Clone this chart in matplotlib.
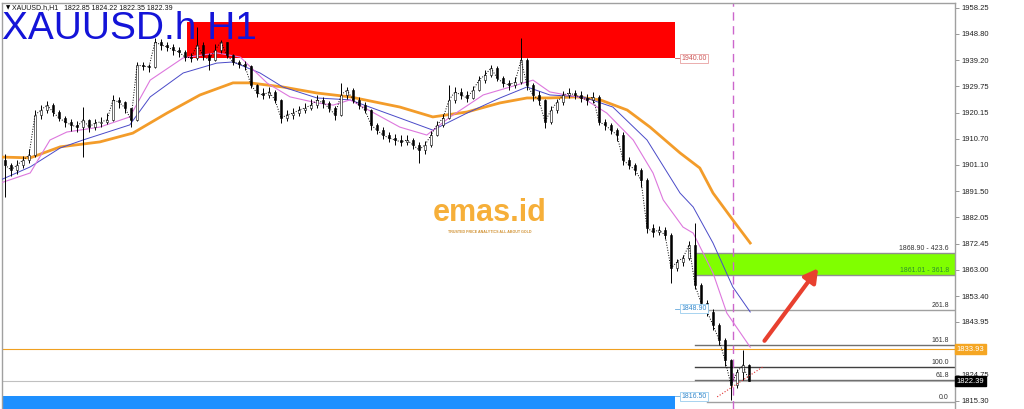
import matplotlib
matplotlib.use("Agg")
from matplotlib import pyplot as plt
from matplotlib.patches import Rectangle

plt.rcParams['font.family'] = ['Liberation Sans', 'DejaVu Sans']

# H1 candles (bar index = position on the chart)
closes = [1901.1, 1899.3, 1901.1, 1902.9, 1904.7, 1919.3, 1921.1, 1922.9, 1920.4, 1918.2,
          1916.8, 1915.7, 1914.9, 1917.5, 1914.9, 1916.4, 1916.8, 1917.5, 1924.8, 1924.0,
          1921.9, 1917.5, 1937.5, 1937.1, 1936.8, 1945.9, 1944.8, 1944.1, 1943.0, 1942.2,
          1940.4, 1940.1, 1944.8, 1941.1, 1939.3, 1943.0, 1945.9, 1941.1, 1938.6, 1937.9,
          1937.1, 1930.2, 1927.3, 1926.6, 1927.7, 1924.8, 1918.2, 1919.3, 1920.0, 1921.1,
          1921.9, 1922.9, 1924.8, 1923.7, 1921.9, 1919.3, 1926.6, 1928.4, 1924.8, 1923.0,
          1921.1, 1915.7, 1913.8, 1912.0, 1910.9, 1910.2, 1909.5, 1910.2, 1908.4, 1906.6,
          1908.4, 1912.0, 1915.7, 1918.2, 1924.8, 1927.7, 1926.6, 1925.5, 1928.4, 1932.0,
          1933.9, 1936.4, 1932.8, 1931.0, 1930.2, 1931.3, 1939.3, 1930.2, 1926.6, 1924.8,
          1916.8, 1921.1, 1924.0, 1926.6, 1927.3, 1926.6, 1925.5, 1924.8, 1925.9, 1916.8,
          1915.7, 1913.8, 1912.0, 1902.9, 1901.1, 1899.3, 1895.6, 1878.2, 1876.7, 1877.4,
          1875.6, 1863.6, 1865.8, 1867.3, 1872.0, 1857.4, 1850.9, 1847.6, 1842.9, 1837.4,
          1830.1, 1821.0, 1825.8, 1828.3, 1822.4]
highs = [1905.0, 1902.0, 1903.0, 1904.5, 1907.0, 1921.0, 1923.0, 1924.5, 1923.5, 1921.0,
         1919.0, 1918.0, 1917.0, 1922.2, 1918.0, 1918.0, 1918.5, 1920.0, 1926.6, 1926.0,
         1924.5, 1922.0, 1938.6, 1938.6, 1938.0, 1947.3, 1947.0, 1946.0, 1945.0, 1944.0,
         1943.0, 1942.0, 1951.3, 1946.0, 1942.0, 1945.0, 1946.6, 1946.0, 1941.5, 1939.5,
         1939.0, 1937.5, 1930.5, 1929.0, 1929.5, 1928.5, 1925.0, 1921.0, 1922.0, 1922.5,
         1923.5, 1925.0, 1926.5, 1926.0, 1924.5, 1922.5, 1931.0, 1929.5, 1929.0, 1926.0,
         1924.0, 1921.5, 1916.5, 1915.0, 1913.0, 1912.5, 1912.0, 1912.0, 1911.0, 1909.5,
         1910.0, 1913.5, 1917.0, 1919.5, 1930.2, 1929.5, 1929.0, 1928.0, 1930.0, 1933.5,
         1935.5, 1937.5, 1937.0, 1933.5, 1932.0, 1933.0, 1947.3, 1940.0, 1931.0, 1928.0,
         1925.0, 1922.5, 1925.0, 1928.0, 1929.0, 1928.5, 1928.0, 1927.0, 1927.5, 1926.5,
         1918.0, 1916.5, 1914.5, 1913.0, 1904.0, 1902.0, 1900.0, 1896.5, 1879.5, 1879.0,
         1878.5, 1876.5, 1867.0, 1868.5, 1873.5, 1880.0, 1858.0, 1852.0, 1848.5, 1843.5,
         1838.0, 1830.5, 1827.0, 1833.8, 1828.5]
lows = [1889.5, 1897.0, 1898.0, 1900.0, 1902.0, 1904.0, 1918.0, 1920.0, 1919.0, 1917.0,
        1915.0, 1913.5, 1913.0, 1904.0, 1913.0, 1914.0, 1915.0, 1916.0, 1917.0, 1922.0,
        1920.0, 1914.9, 1917.0, 1935.5, 1935.0, 1936.5, 1943.0, 1942.5, 1941.0, 1940.5,
        1939.0, 1938.6, 1939.5, 1939.5, 1935.7, 1939.0, 1942.0, 1940.0, 1937.5, 1936.5,
        1935.5, 1929.0, 1926.0, 1925.0, 1925.5, 1923.5, 1916.4, 1917.0, 1918.0, 1919.0,
        1920.0, 1921.0, 1922.0, 1922.0, 1920.5, 1917.5, 1919.0, 1925.0, 1923.5, 1921.5,
        1920.0, 1914.0, 1912.5, 1910.5, 1909.5, 1908.5, 1908.0, 1908.5, 1907.0, 1901.8,
        1905.0, 1907.5, 1911.5, 1915.0, 1918.0, 1923.5, 1925.0, 1924.0, 1925.0, 1928.0,
        1931.0, 1933.0, 1931.5, 1929.5, 1928.5, 1929.0, 1930.5, 1928.5, 1924.5, 1923.0,
        1914.6, 1916.0, 1920.0, 1923.0, 1925.5, 1925.0, 1924.0, 1923.0, 1923.5, 1915.5,
        1914.0, 1912.5, 1910.0, 1901.0, 1899.5, 1897.5, 1893.0, 1876.5, 1875.0, 1875.5,
        1874.0, 1858.2, 1862.5, 1864.5, 1866.5, 1856.0, 1849.0, 1846.0, 1841.0, 1835.5,
        1828.0, 1815.6, 1820.0, 1823.0, 1822.35]
first_open = 1903.0
opens = [first_open] + closes[:-1]

# moving averages (sampled points: bar index, price)
ma_fast_x = [-0.8, 4.2, 7.5, 10.3, 15.8, 20.8, 24.2, 29.7, 35.3, 39.2, 43.7, 47.5, 52, 54.7, 57.5,
             65.8, 70.3, 74.2, 79.7, 84.2, 88, 90.8, 96.3, 100.3, 104.7, 108, 109.7, 113, 114.7,
             118, 120.3, 124.2]
ma_fast_y = [1894.5, 1898.2, 1910.2, 1913.1, 1914.9, 1918.6, 1932.0, 1940.1, 1941.9, 1940.4,
             1930.9, 1925.9, 1923.7, 1922.9, 1924.8, 1914.9, 1912.0, 1918.6, 1926.6, 1929.5,
             1932.0, 1927.7, 1925.5, 1920.0, 1910.2, 1898.2, 1888.4, 1878.5, 1876.3, 1861.8,
             1847.2, 1834.8]
ma_mid_x = [-0.8, 4.2, 9.2, 13, 20.8, 24.2, 29.7, 35.3, 38, 42.5, 46.3, 52, 57.5, 65.8, 71.3,
            77, 82.5, 87, 90.8, 96.3, 101.3, 107, 112.5, 114.7, 118, 121.3, 124.2]
ma_mid_y = [1895.6, 1900.4, 1907.3, 1910.2, 1915.7, 1925.9, 1934.6, 1938.2, 1938.6, 1934.6,
            1929.5, 1925.5, 1924.8, 1918.2, 1913.8, 1920.0, 1925.5, 1929.5, 1926.6, 1925.9,
            1922.2, 1910.2, 1890.9, 1885.8, 1872.7, 1856.7, 1847.6]
ma_slow_x = [-0.8, 4.2, 9.2, 15.8, 21.3, 27, 32.5, 38, 40.8, 46.3, 52, 57.5, 65.8, 71.3, 77,
             82.5, 87, 90.8, 95.3, 99.2, 103.7, 107.5, 112.5, 115.8, 118, 121.3, 124.2]
ma_slow_y = [1904.0, 1903.7, 1907.7, 1909.5, 1912.7, 1920.0, 1926.6, 1931.0, 1931.0, 1929.5,
             1927.3, 1925.9, 1922.2, 1918.6, 1920.4, 1923.7, 1925.5, 1925.5, 1925.9, 1924.8,
             1921.1, 1914.9, 1905.5, 1900.0, 1890.9, 1881.1, 1872.7]

# fibonacci expansion levels
fib_levels = ['0.0', '61.8', '100.0', '161.8', '261.8', '361.8', '423.6']
fib_prices = [1814.82, 1822.71, 1827.59, 1835.48, 1848.25, 1861.01, 1868.90]
fib_colors = ['#a0a0a0', '#707070', '#404040', '#707070', '#a0a0a0', '#909090', '#909090']

# price axis (1834.35 is hidden under the orange price box)
tick_prices = [1958.25, 1948.80, 1939.20, 1929.75, 1920.15, 1910.70, 1901.10, 1891.50,
               1882.05, 1872.45, 1863.00, 1853.40, 1843.95, 1834.35, 1824.75, 1815.30]
hidden_tick = 1834.35

supply_zone = (30.3, 111.7, 1940.00, 1953.2)
demand_zone = (-0.5, 111.7, 1800.0, 1817.0)
bid = 1822.39
level_orange = 1834.0
vline_bar = 121.3

fig = plt.figure(figsize=(10.24, 4.09), dpi=100)
ax = fig.add_axes([2 / 1024, 0, 953 / 1024, 406 / 409])
ax.set_xlim(-0.5, 158.33)
ax.set_ylim(1812.28, 1960.07)
xmax = 158.33

# zones
ax.add_patch(Rectangle((supply_zone[0], supply_zone[2]), supply_zone[1] - supply_zone[0],
                       supply_zone[3] - supply_zone[2], color='#ff0000', zorder=1, lw=0))
ax.add_patch(Rectangle((demand_zone[0], demand_zone[2]), demand_zone[1] - demand_zone[0],
                       demand_zone[3] - demand_zone[2], color='#1e90ff', zorder=1, lw=0))
ax.add_patch(Rectangle((115, fib_prices[5]), xmax - 115, fib_prices[6] - fib_prices[5],
                       color='#80ff00', zorder=1, lw=0))

# horizontal lines
ax.axhline(level_orange, color='#f0a020', lw=0.8, zorder=2)
ax.axhline(bid, color='#c0c0c0', lw=0.8, zorder=1.5)
for lvl, p, c in zip(fib_levels, fib_prices, fib_colors):
    x0 = 117 if lvl == '0.0' else 115
    ax.plot([x0, xmax], [p, p], color=c, lw=1, zorder=2)
    if lvl in ('361.8', '423.6'):
        continue
    ax.text(157.3, p + 0.4, lvl, fontsize=5, ha='right', va='bottom', color='#333333', zorder=5)
ax.text(157.3, fib_prices[6] + 0.4, '%.2f - %s' % (fib_prices[6], fib_levels[6]),
        fontsize=5, ha='right', va='bottom', color='#333333')
ax.text(157.3, fib_prices[5] + 0.5, '%.2f - %s' % (fib_prices[5], fib_levels[5]),
        fontsize=5, ha='right', va='bottom', color='#2f8f2f')

# vertical dashed line
ax.axvline(vline_bar, color='#cc66cc', lw=1, ls=(0, (6, 4)), zorder=2)

# moving averages
ax.plot(ma_slow_x, ma_slow_y, color='#f39c2a', lw=2, zorder=3)
ax.plot(ma_mid_x, ma_mid_y, color='#4a4ac8', lw=0.7, zorder=3)
ax.plot(ma_fast_x, ma_fast_y, color='#dd77dd', lw=0.8, zorder=3)

# candles
idx = list(range(len(closes)))
ax.vlines(idx, lows, highs, color='black', lw=0.7, zorder=4)
for i in idx:
    o, c = opens[i], closes[i]
    fc = 'white' if c >= o else 'black'
    ax.add_patch(Rectangle((i - 0.22, min(o, c)), 0.44, max(abs(c - o), 0.15),
                           facecolor=fc, edgecolor='black', lw=0.4, zorder=4))
ax.plot(idx, closes, color='black', lw=0.7, ls=':', zorder=4)

# red trend line and arrow
ax.plot([118.7, 126.3], [1816.7, 1827.6], color='#e03030', lw=0.8, ls=':', zorder=4)
ax.annotate('', xy=(135.8, 1864.3), xytext=(126.3, 1836.3),
            arrowprops=dict(arrowstyle='-|>,head_length=0.8,head_width=0.45',
                            color='#e8402f', lw=3), zorder=6)

# price labels on objects
ax.plot([111.7, 112.6], [1940.0, 1940.0], color='#cc5555', lw=0.6)
ax.text(112.7, 1940.0, '1940.00', fontsize=5, ha='left', va='center', color='#cc5555',
        bbox=dict(boxstyle='square,pad=0.15', fc='white', ec='#e8a0a0', lw=0.6), zorder=6)
ax.plot([111.7, 112.6], [1817.0, 1817.0], color='#66aadd', lw=0.6)
ax.text(112.7, 1816.8, '1816.50', fontsize=5, ha='left', va='center', color='#3388cc',
        bbox=dict(boxstyle='square,pad=0.15', fc='white', ec='#99ccee', lw=0.6), zorder=6)
ax.plot([111.7, 112.6], [1848.7, 1848.7], color='#66aadd', lw=0.6)
ax.text(112.7, 1848.7, '1848.90', fontsize=5, ha='left', va='center', color='#3388cc',
        bbox=dict(boxstyle='square,pad=0.15', fc='white', ec='#99ccee', lw=0.6), zorder=6)

# watermark
ax.text(80.8, 1883.5, 'emas.id', fontsize=22, fontweight='bold', color='#f5a623',
        ha='center', va='center', alpha=0.9, zorder=2)
ax.text(80.8, 1876.6, 'TRUSTED PRICE ANALYTICS ALL ABOUT GOLD', fontsize=2.6,
        fontweight='bold', color='#d09030', ha='center', va='center', zorder=2)

# right price scale
ax.yaxis.tick_right()
ax.set_yticks(tick_prices)
ax.set_yticklabels(['' if t == hidden_tick else '%.2f' % t for t in tick_prices],
                   fontsize=5.5, color='#222222')
ax.tick_params(axis='y', length=3, width=0.6, color='#888888', pad=2)
ax.set_xticks([])
for s in ['left', 'right', 'top']:
    ax.spines[s].set_color('#a0a0a0')
    ax.spines[s].set_linewidth(1)
ax.spines['bottom'].set_visible(False)

trans = ax.get_yaxis_transform()
ax.text(1.002, level_orange, '1833.93', transform=trans, fontsize=5.5, color='white',
        ha='left', va='center', clip_on=False, zorder=7,
        bbox=dict(boxstyle='square,pad=0.2', fc='#f5a623', ec='#f5a623'))
ax.text(1.002, bid, '%.2f' % bid, transform=trans, fontsize=5.5, color='white',
        ha='left', va='center', clip_on=False, zorder=7,
        bbox=dict(boxstyle='square,pad=0.2', fc='black', ec='black'))

# header and title
fig.text(6 / 1024, 1 - 8 / 409, '\u25bc', fontsize=4, va='center', ha='left',
         family=['DejaVu Sans'])
fig.text(12 / 1024, 1 - 8 / 409, 'XAUUSD.h,H1   1822.85 1824.22 1822.35 1822.39',
         fontsize=5, va='center', ha='left', color='#111111')
fig.text(2 / 1024, 1 - 39 / 409, 'XAUUSD.h H1', fontsize=28, color='#1414d8',
         va='baseline', ha='left')

fig.savefig('out.png', dpi=100)
